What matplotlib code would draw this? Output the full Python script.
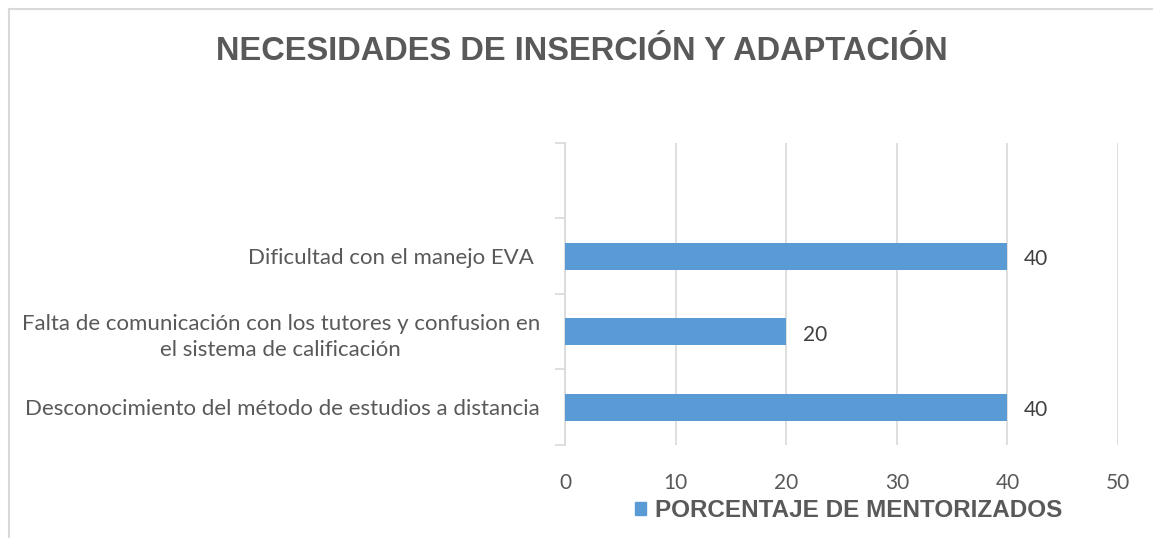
import matplotlib.pyplot as plt
from matplotlib.lines import Line2D
from matplotlib.patches import Patch

# data
categorias = ["Desconocimiento del método de estudios a distancia",
              "Falta de comunicación con los tutores y confusion en\nel sistema de calificación",
              "Dificultad con el manejo EVA ",
              ""]
porcentajes = [40, 20, 40, None]
serie = "PORCENTAJE DE MENTORIZADOS"
titulo = "NECESIDADES DE INSERCIÓN Y ADAPTACIÓN"

gris = "#595959"
azul = "#5b9bd5"
linea = "#d9d9d9"

fig = plt.figure(figsize=(11.53, 5.38), dpi=100)
ax = fig.add_axes([0.490, 0.1729, 0.4797, 0.5613])

pos = list(range(len(categorias)))
vals = [v if v is not None else 0 for v in porcentajes]
ax.barh(pos, vals, height=0.36, color=azul, zorder=3)
for p, v in zip(pos, porcentajes):
    if v is not None:
        ax.text(v + 1.5, p - 0.04, str(v), va="center", ha="left", fontsize=15,
                color="#404040", family="Lato")

ax.set_xlim(0, 50)
ax.set_ylim(-0.5, len(categorias) - 0.5)
ax.set_xticks(range(0, 51, 10))
ax.xaxis.grid(True, color=linea, linewidth=1.2, zorder=0)
ax.set_yticks(pos)
ax.set_yticklabels(categorias, fontsize=16, color=gris, family="Lato", ha="right")
for lbl in ax.get_yticklabels():
    lbl.set_multialignment("center")
    lbl.set_linespacing(1.4)
ax.tick_params(axis="y", which="major", length=0, pad=18)
ax.set_yticks([p - 0.5 for p in pos] + [len(categorias) - 0.5], minor=True)
ax.tick_params(axis="y", which="minor", length=7, color=linea, width=1.2)
ax.tick_params(axis="x", length=0, labelsize=15, labelcolor=gris, pad=20)
for lbl in ax.get_xticklabels():
    lbl.set_family("Lato")
for s in ["top", "right", "bottom"]:
    ax.spines[s].set_visible(False)
ax.spines["left"].set_color(linea)
ax.spines["left"].set_linewidth(1.2)

fig.text(0.505, 0.905, titulo, ha="center", va="center", fontsize=23.5,
         fontweight="bold", color=gris, family="Liberation Sans")

fig.legend(handles=[Patch(color=azul)], labels=[serie], loc="center",
           bbox_to_anchor=(0.736, 0.051), frameon=False, handlelength=0.45,
           handleheight=0.45, handletextpad=0.4,
           prop={"family": "Liberation Sans", "weight": "bold", "size": 17.5},
           labelcolor=gris)

fig.add_artist(Line2D([9 / 1153, 1], [1 - 9 / 538, 1 - 9 / 538], color="#d9d9d9", lw=1.5))
fig.add_artist(Line2D([9 / 1153, 9 / 1153], [0, 1 - 9 / 538], color="#d9d9d9", lw=1.5))

fig.savefig("out.png", dpi=100)
